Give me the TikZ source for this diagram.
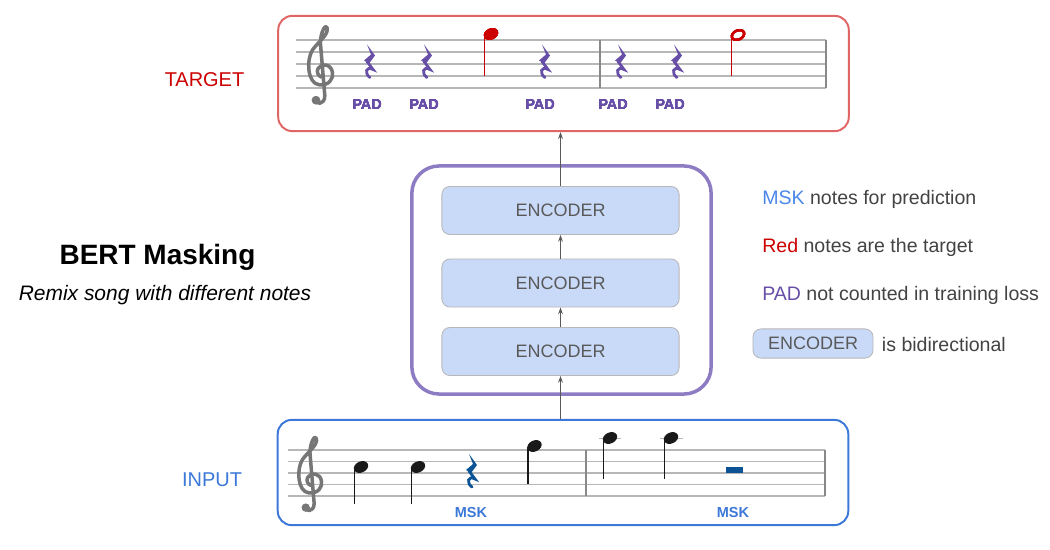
\documentclass[tikz,border=0pt]{standalone}
\usepackage{fontspec}
\setmainfont{Liberation Sans}
\usetikzlibrary{arrows.meta,positioning}
\definecolor{TargetRed}{HTML}{E06666}
\definecolor{NoteRed}{HTML}{CC0000}
\definecolor{InputBlue}{HTML}{3C78D8}
\definecolor{MaskBlue}{HTML}{4A86E8}
\definecolor{RestBlue}{HTML}{0B5394}
\definecolor{PadPurple}{HTML}{674EA7}
\definecolor{FramePurple}{HTML}{8E7CC3}
\definecolor{EncFill}{HTML}{C9DAF8}
\definecolor{EncLine}{HTML}{B7B7B7}
\definecolor{TextGray}{HTML}{434343}
\definecolor{StaffGray}{HTML}{B7B7B7}
\definecolor{ClefGray}{HTML}{767676}
\definecolor{ArrowGray}{HTML}{595959}
\tikzset{
  songbox/.style={
    rounded corners=0.35cm,
    draw=#1,
    line width=1.4pt,
    minimum width=14.26cm
  },
  stack/.style={
    rounded corners=0.68cm,
    draw=FramePurple,
    line width=2.5pt,
    minimum width=7.48cm,
    minimum height=5.7cm
  },
  encoder/.style={
    rounded corners=0.2cm,
    draw=EncLine,
    fill=EncFill,
    line width=0.6pt,
    text=ArrowGray,
    font=\fontsize{12.8}{15}\selectfont,
    minimum width=5.93cm,
    minimum height=1.2cm
  },
  sidelabel/.style={
    font=\fontsize{14.2}{17}\selectfont,
    text=#1,
    anchor=base
  },
  notelabel/.style={
    font=\bfseries\fontsize{10.3}{12}\selectfont,
    text=#1,
    anchor=base
  },
  legend/.style={
    font=\fontsize{13.9}{17}\selectfont,
    text=TextGray,
    anchor=base west,
    inner sep=0pt
  },
  uparrow/.style={
    -{Stealth[length=1.7mm,width=1.2mm]},
    draw=ArrowGray,
    line width=0.7pt
  },
  staffline/.style={
    draw=StaffGray,
    line width=0.9pt
  },
  barline/.style={
    draw=StaffGray!75!black,
    line width=0.9pt
  },
  clefstroke/.style={
    draw=ClefGray,
    line width=2.5pt,
    line cap=round,
    line join=round
  }
}
% staff: x start, x end, top line, line spacing
\newcommand{\stafflines}[4]{%
  \foreach \k in {0,...,4}
    \draw[staffline] (#1,#3+\k*#4) -- (#2,#3+\k*#4);
}
% treble clef: x, G line, scale
\newcommand{\gclef}[3]{%
  \begin{scope}[shift={(#1,#2)}, scale=#3]
    \draw[clefstroke] (-6,21) .. controls (-6,26) and (3,27) .. (3,18)
      -- (-1,-30) .. controls (-1,-40) and (4,-48) .. (5,-44)
      .. controls (7,-38) and (-2,-32) .. (-8,-24)
      .. controls (-14,-15) and (-13,7) .. (-2,8)
      .. controls (7,9) and (11,2) .. (10,-3)
      .. controls (9,-11) and (0,-12) .. (-3,-7)
      .. controls (-5,-4) and (-3,0) .. (0,1);
    \fill[ClefGray] (-5,22) circle (4);
  \end{scope}
}
% quarter rest: x, y, colour
\newcommand{\qrest}[3]{%
  \begin{scope}[shift={(#1,#2)}]
    \fill[#3] (-3,-17) -- (5,-6) -- (-1,2) -- (-6,-1) -- (1,-7) -- cycle;
    \draw[#3, line width=2pt, line cap=round] (-3,0) -- (3,8)
      .. controls (-4,4) and (-6,12) .. (0,16);
  \end{scope}
}
% filled note: head x, head y, stem end, colour
\newcommand{\quarternote}[4]{%
  \draw[#4, line width=1.3pt] (#1-6.5,#2+1) -- (#1-6.5,#3);
  \fill[#4, rotate around={25:(#1,#2)}] (#1,#2) ellipse (7.5 and 5.5);
}
% open note: head x, head y, stem end, colour
\newcommand{\halfnote}[4]{%
  \draw[#4, line width=1.3pt] (#1-6.5,#2+1) -- (#1-6.5,#3);
  \draw[#4, line width=1.6pt, rotate around={25:(#1,#2)}] (#1,#2) ellipse (6.5 and 4.5);
}

\begin{document}
\begin{tikzpicture}[x=0.025cm,y=-0.025cm]
\useasboundingbox (0,0) rectangle (1050,550);

% Song boxes and encoder stack.
\node[songbox=TargetRed, minimum height=2.88cm] (target) at (563.5,73.5) {};
\node[songbox=InputBlue, minimum height=2.63cm] (input) at (563,472.5) {};
\node[stack] (stack) at (561.5,280) {};

\node[encoder] (encTop) at (560.5,210.5) {ENCODER};
\node[encoder] (encMid) at (560.5,283) {ENCODER};
\node[encoder] (encBot) at (560.5,351.5) {ENCODER};

% Arrows up through the stack.
\draw[uparrow] (encBot.south |- input.north) -- (encBot.south);
\draw[uparrow] (encBot.north) -- (encMid.south);
\draw[uparrow] (encMid.north) -- (encTop.south);
\draw[uparrow] (encTop.north) -- (encTop.north |- target.south);

% Side labels.
\node[sidelabel=NoteRed] (targetlabel) at (204.5,87) {TARGET};
\node[sidelabel=InputBlue] (inputlabel) at (212,486) {INPUT};
\node[font=\bfseries\fontsize{19.9}{24}\selectfont, anchor=base] (title) at (157.5,265) {BERT Masking};
\node[font=\itshape\fontsize{14.9}{18}\selectfont, anchor=base] (subtitle) at (165,300) {Remix song with different notes};

% Legend.
\node[legend] (legmsk) at (762,205) {\textcolor{MaskBlue}{MSK} notes for prediction};
\node[legend] (legred) at (762,252) {\textcolor{NoteRed}{Red} notes are the target};
\node[legend] (legpad) at (762,300) {\textcolor{PadPurple}{PAD} not counted in training loss};
\node[encoder, minimum width=3cm, minimum height=0.73cm] (legenc) at (813,343.5) {ENCODER};
\node[legend] (legbi) at (881.7,351) {is bidirectional};

% Target staff.
\stafflines{296}{826}{40}{12}
\draw[barline] (600,40) -- (600,88);
\draw[barline] (826,40) -- (826,88);
\gclef{321.5}{76}{1.1}
\foreach \x in {370,427,545,621,677}
  \qrest{\x}{61.5}{PadPurple}
\quarternote{491}{34}{76}{NoteRed}
\halfnote{738}{35}{76}{NoteRed}
\foreach \x in {367,424,540,613,670}
  \node[notelabel=PadPurple] at (\x,110) {PAD};

% Input staff.
\stafflines{288}{825}{450}{11.5}
\draw[barline] (586,450) -- (586,496);
\draw[barline] (825,450) -- (825,496);
\gclef{311}{484.5}{1.05}
\quarternote{361}{467}{504}{black!90}
\quarternote{418}{467}{504}{black!90}
\qrest{472}{471}{RestBlue}
\quarternote{534.5}{446}{484}{black!90}
\draw[staffline] (598.5,438.5) -- (621,438.5);
\draw[staffline] (660,438.5) -- (683,438.5);
\quarternote{610}{438}{479}{black!90}
\quarternote{671}{438}{479}{black!90}
\fill[RestBlue] (725.6,466.7) rectangle (742.7,472.7);
\node[notelabel=InputBlue] at (471,517) {MSK};
\node[notelabel=InputBlue] at (733,517) {MSK};

\end{tikzpicture}
\end{document}
